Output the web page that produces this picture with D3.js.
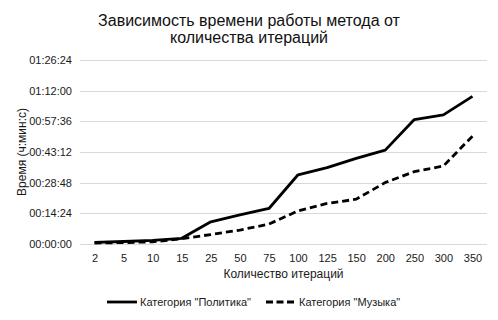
<!DOCTYPE html>
<html lang="ru">
<head>
<meta charset="utf-8">
<title>Зависимость времени работы метода</title>
<script src="https://d3js.org/d3.v7.min.js"></script>
<style>
  body { margin: 0; background: #fff; }
  svg { display: block; font-family: "Liberation Sans", Arial, sans-serif; }
  .grid line { stroke: #d9d9d9; stroke-width: 1; shape-rendering: crispEdges; }
  .grid path { display: none; }
  .tick text { fill: #1a1a1a; font-size: 11px; }
</style>
</head>
<body>
<script>
const w = 498, h = 320;
const margin = { left: 80, right: 11, top: 60, bottom: 76 };

// iterations (categories)
const iterations = ["2", "5", "10", "15", "25", "50", "75", "100", "125", "150", "200", "250", "300", "350"];
// time in seconds
const politics = [48, 70, 100, 160, 626, 820, 1001, 1950, 2151, 2412, 2645, 3506, 3638, 4160];
const music = [28, 40, 60, 150, 266, 393, 561, 934, 1142, 1262, 1731, 2039, 2196, 3038];
const yTicks = [0, 864, 1728, 2592, 3456, 4320, 5184];

const fmt = s => {
  const hh = Math.floor(s / 3600), mm = Math.floor((s % 3600) / 60), ss = s % 60;
  return [hh, mm, ss].map(v => String(v).padStart(2, "0")).join(":");
};

const svg = d3.select("body").append("svg").attr("width", w).attr("height", h);

const x = d3.scalePoint()
  .domain(iterations)
  .range([margin.left, w - margin.right])
  .padding(0.5);

const y = d3.scaleLinear()
  .domain([0, 5184])
  .range([h - margin.bottom, margin.top]);

// grid + y labels
svg.append("g")
  .attr("class", "grid")
  .attr("transform", "translate(" + margin.left + ",0)")
  .call(d3.axisLeft(y).tickValues(yTicks).tickSize(-(w - margin.left - margin.right)).tickFormat(fmt).tickPadding(8))
  .call(g => g.selectAll("text").attr("x", -8));

// x labels
svg.append("g")
  .attr("transform", "translate(0," + (h - margin.bottom) + ")")
  .call(d3.axisBottom(x).tickSize(0).tickPadding(10))
  .call(g => g.select(".domain").remove());

const line = d3.line()
  .x((d, i) => x(iterations[i]))
  .y(d => y(d));

svg.append("path")
  .datum(politics)
  .attr("d", line)
  .attr("fill", "none")
  .attr("stroke", "#000")
  .attr("stroke-width", 2.8)
  .attr("stroke-linejoin", "round");

svg.append("path")
  .datum(music)
  .attr("d", line)
  .attr("fill", "none")
  .attr("stroke", "#000")
  .attr("stroke-width", 2.8)
  .attr("stroke-dasharray", "7,4");

// title
const title = svg.append("text")
  .attr("text-anchor", "middle")
  .attr("font-size", "16px")
  .attr("fill", "#111");
title.append("tspan").attr("x", 249).attr("y", 26).text("Зависимость времени работы метода от");
title.append("tspan").attr("x", 249).attr("y", 43).text("количества итераций");

// axis titles
svg.append("text")
  .attr("x", (margin.left + w - margin.right) / 2)
  .attr("y", 278)
  .attr("text-anchor", "middle")
  .attr("font-size", "12px")
  .attr("fill", "#1a1a1a")
  .text("Количество итераций");

svg.append("text")
  .attr("transform", "translate(26," + ((margin.top + h - margin.bottom) / 2) + ") rotate(-90)")
  .attr("text-anchor", "middle")
  .attr("font-size", "12px")
  .attr("fill", "#1a1a1a")
  .text("Время (ч:мин:с)");

// legend
const legend = [
  { name: "Категория \"Политика\"", dash: null, x: 107 },
  { name: "Категория \"Музыка\"", dash: "7,3.5", x: 266 }
];
const lg = svg.append("g").selectAll("g").data(legend).enter().append("g");
lg.append("line")
  .attr("x1", d => d.x).attr("x2", d => d.x + 30)
  .attr("y1", 302).attr("y2", 302)
  .attr("stroke", "#000").attr("stroke-width", 2.8)
  .attr("stroke-dasharray", d => d.dash);
lg.append("text")
  .attr("x", d => d.x + 33)
  .attr("y", 306)
  .attr("font-size", "11px")
  .attr("fill", "#1a1a1a")
  .text(d => d.name);
</script>
</body>
</html>
